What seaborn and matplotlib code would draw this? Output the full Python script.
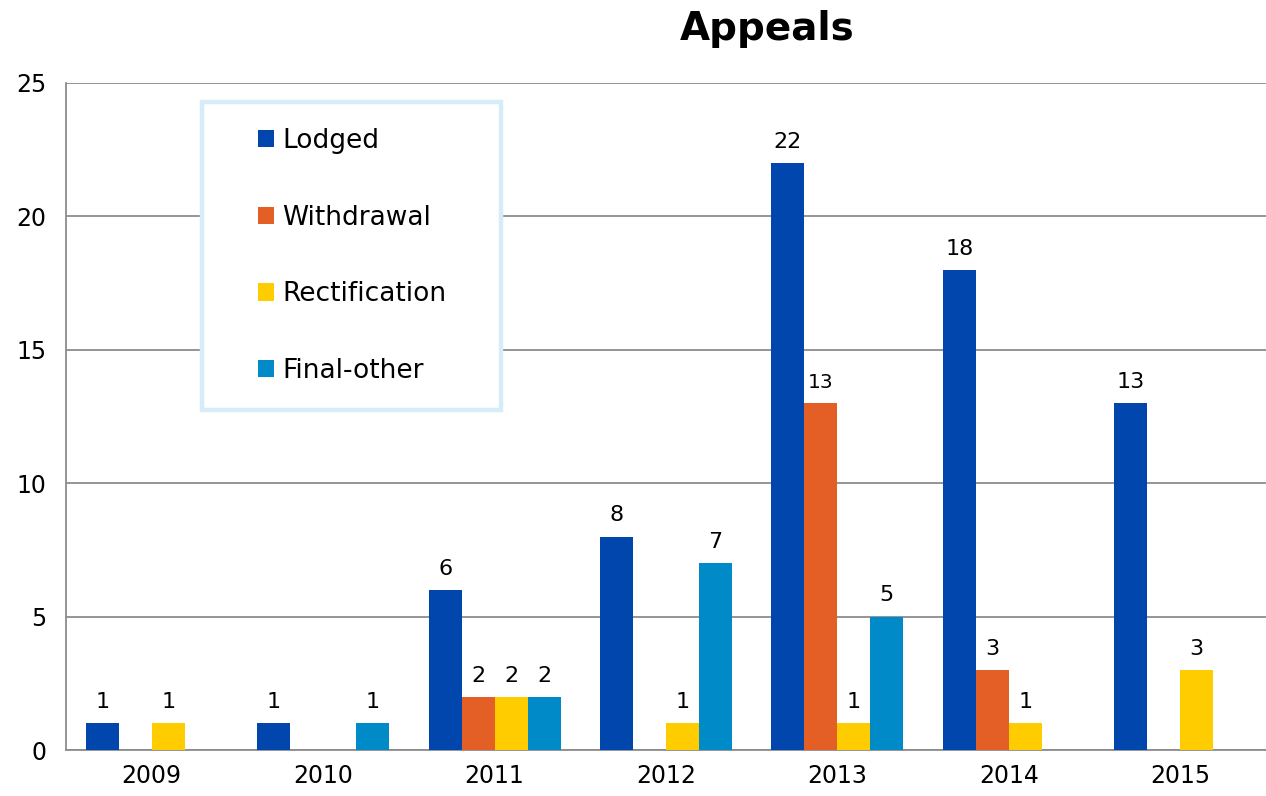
import pandas as pd
import matplotlib.pyplot as plt
import seaborn as sns
from matplotlib.patches import Rectangle

# values
years = ["2009", "2010", "2011", "2012", "2013", "2014", "2015"]
lodged = [1, 1, 6, 8, 22, 18, 13]
withdrawal = [0, 0, 2, 0, 13, 3, 0]
rectification = [1, 0, 2, 1, 1, 1, 3]
final_other = [0, 1, 2, 7, 5, 0, 0]

series = ["Lodged", "Withdrawal", "Rectification", "Final-other"]
colors = ["#0046AD", "#E35F25", "#FFCC00", "#008AC8"]

df = pd.DataFrame({
    "year": years * 4,
    "type": [s for s in series for _ in years],
    "count": lodged + withdrawal + rectification + final_other,
})

sns.set_style("white")
plt.rcParams["font.family"] = ["DejaVu Sans"]
plt.rcParams["text.color"] = "black"
plt.rcParams["xtick.color"] = "black"
plt.rcParams["ytick.color"] = "black"

W, H = 1266, 796
fig = plt.figure(figsize=(W / 100, H / 100), dpi=100)
ax = fig.add_axes([66 / W, 46 / H, 1200 / W, 667 / H])

sns.barplot(data=df, x="year", y="count", hue="type", hue_order=series,
            palette=colors, width=0.77, errorbar=None, saturation=1,
            linewidth=0, ax=ax, zorder=3)

# value labels only on non-zero bars
for i, cont in enumerate(ax.containers):
    labels = [f"{int(b.get_height())}" if b.get_height() > 0 else "" for b in cont]
    texts = ax.bar_label(cont, labels=labels, padding=8, fontsize=16)
    if series[i] == "Withdrawal":
        # the 2013 withdrawal label is set smaller in the original
        texts[4].set_fontsize(14.5)

ax.set_ylim(0, 25)
ax.set_yticks([0, 5, 10, 15, 20, 25])
ax.set_xlim(-0.5, 6.5)
ax.set_xlabel("")
ax.set_ylabel("")
ax.yaxis.grid(True, color="#8c8c8c", linewidth=1.3, zorder=0)
ax.set_axisbelow(True)
for side in ["top", "right"]:
    ax.spines[side].set_visible(False)
for side in ["left", "bottom"]:
    ax.spines[side].set_color("#8c8c8c")
    ax.spines[side].set_linewidth(1.3)
ax.tick_params(axis="y", length=0, pad=14, labelsize=17)
ax.tick_params(axis="x", length=0, pad=10, labelsize=17)

# legend frame drawn separately so the padding can match the original
fig.patches.append(Rectangle((202 / W, 1 - 410 / H), 299 / W, 308 / H,
                             transform=fig.transFigure, facecolor="white",
                             edgecolor="#d6ecf8", linewidth=3.2, zorder=4))
handles, lbls = ax.get_legend_handles_labels()
ax.get_legend().remove()
leg = fig.legend(handles, lbls, loc="center",
                 bbox_to_anchor=(352 / W, 1 - 256 / H),
                 fontsize=19, frameon=False, labelspacing=1.92,
                 handlelength=0.62, handleheight=0.62, handletextpad=0.3)
leg.set_zorder(5)

fig.text(767 / W, 1 - 29 / H, "Appeals", ha="center", va="center",
         fontsize=28, fontweight="bold")

fig.savefig("out.png", dpi=100)
